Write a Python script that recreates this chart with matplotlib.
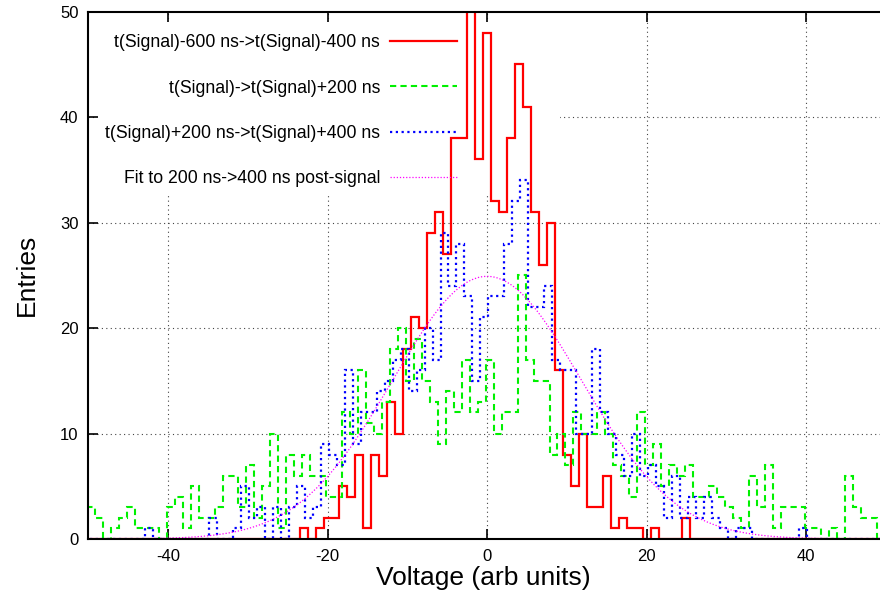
import numpy as np
import matplotlib
matplotlib.use("Agg")
import matplotlib.pyplot as plt
from matplotlib.patches import Rectangle

plt.rcParams["font.family"] = ["Liberation Sans", "DejaVu Sans"]
plt.rcParams["axes.unicode_minus"] = False

# histogram counts, one value per 1-unit bin, bins -50 .. 49
red_counts = [0, 0, 0, 0, 0, 0, 0, 0, 0, 0,
              0, 0, 0, 0, 0, 0, 0, 0, 0, 0,
              0, 0, 0, 0, 0, 0, 0, 1, 0, 1,
              2, 2, 5, 4, 8, 1, 8, 6, 13, 10,
              18, 21, 20, 29, 31, 27, 38, 38, 53, 36,
              48, 32, 31, 38, 45, 41, 31, 26, 30, 16,
              8, 5, 10, 3, 3, 6, 1, 2, 1, 1,
              0, 1, 0, 0, 0, 2, 0, 0, 0, 0,
              0, 0, 0, 0, 0, 0, 0, 0, 0, 0,
              0, 0, 0, 0, 0, 0, 0, 0, 0, 0]
green_counts = [3, 2, 0, 1, 2, 3, 1, 1, 1, 0,
                3, 4, 1, 5, 2, 2, 3, 6, 6, 3,
                7, 2, 5, 10, 1, 8, 6, 8, 6, 6,
                4, 4, 12, 10, 16, 11, 10, 13, 18, 20,
                15, 19, 15, 13, 9, 14, 12, 17, 12, 13,
                17, 10, 12, 12, 25, 17, 15, 15, 8, 10,
                7, 12, 10, 10, 12, 10, 7, 6, 4, 12,
                7, 9, 5, 7, 6, 7, 4, 4, 5, 4,
                3, 2, 1, 6, 3, 7, 1, 3, 3, 3,
                1, 1, 0, 1, 0, 6, 3, 2, 2, 0]
blue_counts = [0, 0, 0, 0, 0, 0, 0, 1, 0, 0,
               0, 0, 0, 0, 0, 2, 0, 0, 1, 5,
               2, 3, 0, 3, 0, 3, 5, 2, 3, 9,
               8, 7, 16, 9, 12, 12, 14, 15, 17, 18,
               14, 16, 20, 17, 29, 24, 28, 23, 15, 21,
               23, 23, 28, 32, 34, 22, 22, 24, 17, 16,
               16, 10, 10, 18, 12, 10, 8, 6, 10, 6,
               7, 5, 2, 6, 2, 4, 2, 4, 2, 1,
               0, 1, 1, 0, 0, 0, 0, 0, 0, 1,
               0, 0, 0, 0, 0, 0, 0, 0, 0, 0]

# left edge of each histogram (the three are shifted by a third of a bin)
red_start = -50.5
green_start = -50.5 + 1 / 3
blue_start = -50.5 + 2 / 3

# gaussian fit to the post-signal histogram
fit_amp = 24.9
fit_mean = 0.0
fit_sigma = 11.8

labels = ["t(Signal)-600 ns->t(Signal)-400 ns",
          "t(Signal)->t(Signal)+200 ns",
          "t(Signal)+200 ns->t(Signal)+400 ns",
          "Fit to 200 ns->400 ns post-signal"]

fig = plt.figure(figsize=(8.8, 5.96), dpi=100)
ax = fig.add_axes([0.1003, 0.0956, 0.8997, 0.885])

n = len(red_counts)
ax.stairs(red_counts, red_start + np.arange(n + 1), color="#ff0000", lw=1.6,
          label=labels[0], zorder=2)
ax.stairs(green_counts, green_start + np.arange(n + 1), color="#00f000", lw=1.5,
          ls=(0, (3, 2)), label=labels[1], zorder=2)
ax.stairs(blue_counts, blue_start + np.arange(n + 1), color="#0000ff", lw=1.6,
          ls=(0, (1, 1.6)), label=labels[2], zorder=2)

xf = np.linspace(-50, 50, 400)
ax.plot(xf, fit_amp * np.exp(-0.5 * ((xf - fit_mean) / fit_sigma) ** 2),
        color="#ff00ff", lw=0.9, ls=(0, (1, 1.5)), label=labels[3], zorder=2)

# dotted grid, hidden behind the key area
for yv in [10, 20, 30, 40]:
    ax.axhline(yv, color="#444444", lw=0.8, ls=(0, (1, 3)), zorder=0.5)
for xv in [-40, -20, 0, 20, 40]:
    ax.axvline(xv, color="#444444", lw=0.8, ls=(0, (1, 3)), zorder=0.5)
ax.add_patch(Rectangle((0.011, 0.65), 0.585, 0.335, transform=ax.transAxes,
                       facecolor="white", edgecolor="none", zorder=1))

ax.set_xlim(-50, 49.27)
ax.set_ylim(0, 50)
ax.set_xticks([-40, -20, 0, 20, 40])
ax.set_yticks([0, 10, 20, 30, 40, 50])
ax.tick_params(direction="in", length=7, width=1.2, top=True, right=False,
               labelsize=12, pad=7)
ax.spines["right"].set_visible(False)
for s in ["left", "top", "bottom"]:
    ax.spines[s].set_linewidth(1.5)

ax.set_xlabel("Voltage (arb units)", fontsize=19)
ax.set_ylabel("Entries", fontsize=19)
ax.xaxis.set_label_coords(0.499, -0.052)
ax.yaxis.set_label_coords(-0.062, 0.5)

ax.legend(loc="upper right", bbox_to_anchor=(0.466, 0.957), frameon=False,
          markerfirst=False, fontsize=12.7, handlelength=3.8, handletextpad=0.57,
          labelspacing=1.61, borderpad=0, borderaxespad=0)

fig.savefig("out.png", dpi=100)
